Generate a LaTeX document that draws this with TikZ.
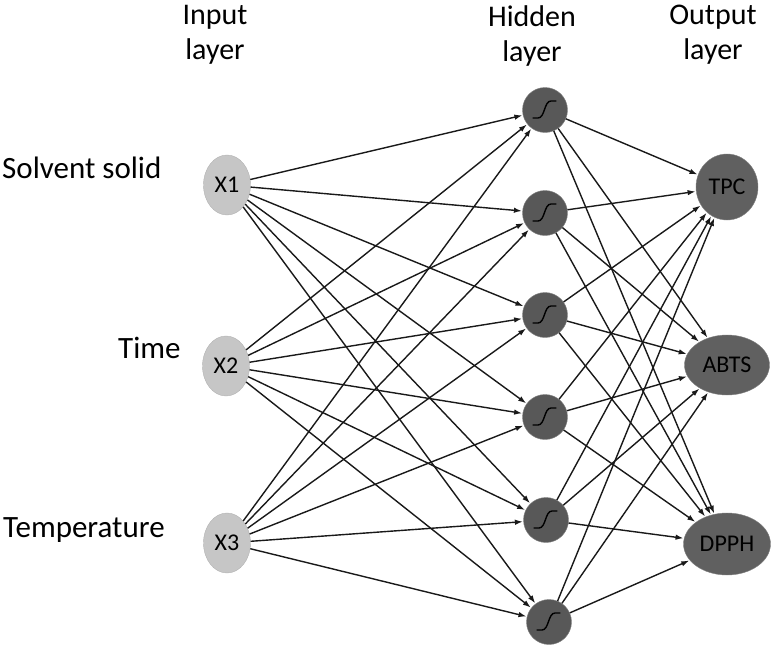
\documentclass[tikz,border=0pt]{standalone}
\usepackage{fontspec}
\setmainfont{Carlito}
\usetikzlibrary{positioning}
\usetikzlibrary{shapes.geometric}
\usetikzlibrary{arrows.meta}
\definecolor{inGray}{HTML}{C6C6C6}
\definecolor{hidGray}{HTML}{585858}
\definecolor{outGray}{HTML}{606060}
\tikzset{
	inNode/.style={ellipse,fill=inGray,draw=inGray!90!black,line width=0.4pt,minimum width=47pt,minimum height=60pt,inner sep=0pt,font=\fontsize{24}{26}\selectfont},
	hidNode/.style={circle,fill=hidGray,draw=gray,line width=0.4pt,minimum size=45pt,inner sep=0pt},
	outNode/.style={ellipse,fill=outGray,draw=gray,line width=0.4pt,inner sep=0pt,font=\fontsize{24}{26}\selectfont},
	layerLbl/.style={align=center,anchor=north,inner sep=0pt,font=\fontsize{30}{35}\selectfont},
	varLbl/.style={anchor=base west,inner sep=0pt,font=\fontsize{31}{35}\selectfont},
	conn/.style={line width=1.4pt,color=black!90,-{Latex[length=8pt,width=5.5pt]},shorten >=0.5pt},
	sig/.style={line width=1.4pt,black,line cap=round}
}

\begin{document}
\begin{tikzpicture}[x=1pt,y=-1pt]
	\useasboundingbox (0,0) rectangle (774,648);
	
	% layers
	\node[layerLbl] (inLbl) at (215,5) {Input\\layer};
	\node[layerLbl] (hidLbl) at (532,5) {Hidden\\layer};
	\node[layerLbl] (outLbl) at (713,5) {Output\\layer};
	
	% inputs
	\node[inNode] (X1) at (227,185) {X1};
	\node[inNode] (X2) at (226,366) {X2};
	\node[inNode] (X3) at (227,543) {X3};
	\node[varLbl] (solv) at (2,178) {Solvent solid};
	\node[varLbl] (time) at (118,358) {Time};
	\node[varLbl] (temp) at (3,537) {Temperature};
	
	% hidden
	\node[hidNode] (H1) at (545,110) {};
	\node[hidNode] (H2) at (545,213) {};
	\node[hidNode] (H3) at (545,315) {};
	\node[hidNode] (H4) at (545,417) {};
	\node[hidNode] (H5) at (546,520) {};
	\node[hidNode] (H6) at (549,622) {};
	
	% outputs
	\node[outNode,minimum width=62pt,minimum height=66pt] (TPC) at (727,187) {TPC};
	\node[outNode,minimum width=85pt,minimum height=60pt] (ABTS) at (727,365) {ABTS};
	\node[outNode,minimum width=87pt,minimum height=62pt] (DPPH) at (727,544) {DPPH};
	
	\foreach \j in {1,...,6}
		\draw[sig,shift={(H\j)}] (-12,8) -- (-7,8) .. controls (0,8) and (-1,-9) .. (6,-9) -- (11,-9);
	
	\foreach \i in {1,2,3}
		\foreach \j in {1,...,6}
			\draw[conn] (X\i) -- (H\j);
	\foreach \j in {1,...,6}
		\foreach \k in {TPC,ABTS,DPPH}
			\draw[conn] (H\j) -- (\k);
\end{tikzpicture}
\end{document}
